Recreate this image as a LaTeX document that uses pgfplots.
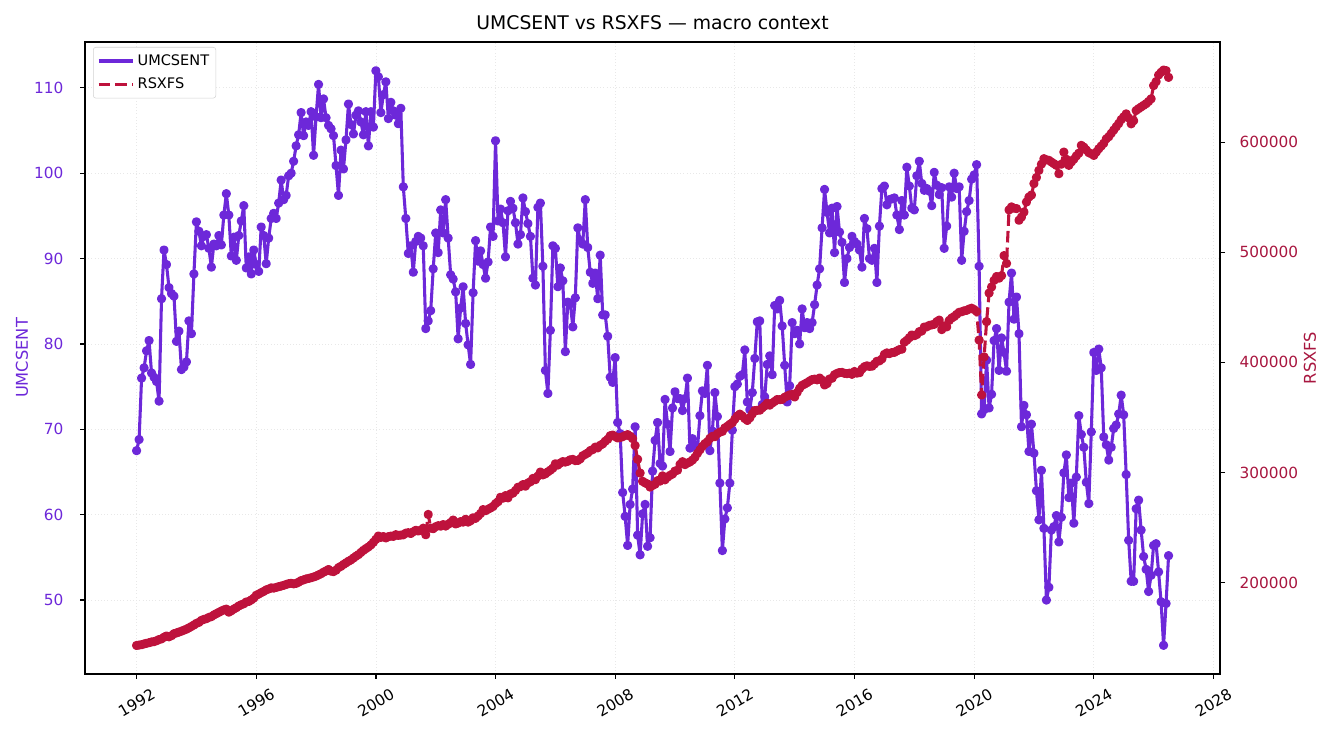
\documentclass[border=0pt]{standalone}
\usepackage{pgfplots}
\pgfplotsset{compat=1.18}
\usepackage{pgfplotstable}
\usepackage{fontspec}
\setmainfont{DejaVu Sans}
\definecolor{umc}{HTML}{6D28D9}
\definecolor{rsx}{HTML}{BE123C}
\definecolor{rsxtxt}{HTML}{A8163F}

% UMCSENT, monthly from Jan 1992
\pgfplotstableread[row sep=\\]{
u\\
67.5\\ 68.8\\ 76.0\\ 77.2\\ 79.2\\ 80.4\\ 76.6\\ 76.1\\ 75.6\\ 73.3\\ 85.3\\ 91.0\\
89.3\\ 86.6\\ 85.9\\ 85.6\\ 80.3\\ 81.5\\ 77.0\\ 77.3\\ 77.9\\ 82.7\\ 81.2\\ 88.2\\
94.3\\ 93.2\\ 91.5\\ 92.6\\ 92.8\\ 91.2\\ 89.0\\ 91.7\\ 91.5\\ 92.7\\ 91.6\\ 95.1\\
97.6\\ 95.1\\ 90.3\\ 92.5\\ 89.8\\ 92.7\\ 94.4\\ 96.2\\ 88.9\\ 90.2\\ 88.2\\ 91.0\\
89.3\\ 88.5\\ 93.7\\ 92.7\\ 89.4\\ 92.4\\ 94.7\\ 95.3\\ 94.7\\ 96.5\\ 99.2\\ 96.9\\
97.4\\ 99.7\\ 100.0\\ 101.4\\ 103.2\\ 104.5\\ 107.1\\ 104.4\\ 106.0\\ 105.6\\ 107.2\\ 102.1\\
106.6\\ 110.4\\ 106.5\\ 108.7\\ 106.5\\ 105.6\\ 105.2\\ 104.4\\ 100.9\\ 97.4\\ 102.7\\ 100.5\\
103.9\\ 108.1\\ 105.7\\ 104.6\\ 106.8\\ 107.3\\ 106.0\\ 104.5\\ 107.2\\ 103.2\\ 107.2\\ 105.4\\
112.0\\ 111.3\\ 107.1\\ 109.2\\ 110.7\\ 106.4\\ 108.3\\ 107.3\\ 106.8\\ 105.8\\ 107.6\\ 98.4\\
94.7\\ 90.6\\ 91.5\\ 88.4\\ 92.0\\ 92.6\\ 92.4\\ 91.5\\ 81.8\\ 82.7\\ 83.9\\ 88.8\\
93.0\\ 90.7\\ 95.7\\ 93.0\\ 96.9\\ 92.4\\ 88.1\\ 87.6\\ 86.1\\ 80.6\\ 84.2\\ 86.7\\
82.4\\ 79.9\\ 77.6\\ 86.0\\ 92.1\\ 89.7\\ 90.9\\ 89.3\\ 87.7\\ 89.6\\ 93.7\\ 92.6\\
103.8\\ 94.4\\ 95.8\\ 94.2\\ 90.2\\ 95.6\\ 96.7\\ 95.9\\ 94.2\\ 91.7\\ 92.8\\ 97.1\\
95.5\\ 94.1\\ 92.6\\ 87.7\\ 86.9\\ 96.0\\ 96.5\\ 89.1\\ 76.9\\ 74.2\\ 81.6\\ 91.5\\
91.2\\ 86.7\\ 88.9\\ 87.4\\ 79.1\\ 84.9\\ 84.7\\ 82.0\\ 85.4\\ 93.6\\ 92.1\\ 91.7\\
96.9\\ 91.3\\ 88.4\\ 87.1\\ 88.3\\ 85.3\\ 90.4\\ 83.4\\ 83.4\\ 80.9\\ 76.1\\ 75.5\\
78.4\\ 70.8\\ 69.5\\ 62.6\\ 59.8\\ 56.4\\ 61.2\\ 63.0\\ 70.3\\ 57.6\\ 55.3\\ 60.1\\
61.2\\ 56.3\\ 57.3\\ 65.1\\ 68.7\\ 70.8\\ 66.0\\ 65.7\\ 73.5\\ 70.6\\ 67.4\\ 72.5\\
74.4\\ 73.6\\ 73.6\\ 72.2\\ 73.6\\ 76.0\\ 67.8\\ 68.9\\ 68.2\\ 67.7\\ 71.6\\ 74.5\\
74.2\\ 77.5\\ 67.5\\ 69.8\\ 74.3\\ 71.5\\ 63.7\\ 55.8\\ 59.5\\ 60.8\\ 63.7\\ 69.9\\
75.0\\ 75.3\\ 76.2\\ 76.4\\ 79.3\\ 73.2\\ 72.3\\ 74.3\\ 78.3\\ 82.6\\ 82.7\\ 72.9\\
73.8\\ 77.6\\ 78.6\\ 76.4\\ 84.5\\ 84.1\\ 85.1\\ 82.1\\ 77.5\\ 73.2\\ 75.1\\ 82.5\\
81.2\\ 81.6\\ 80.0\\ 84.1\\ 81.9\\ 82.5\\ 81.8\\ 82.5\\ 84.6\\ 86.9\\ 88.8\\ 93.6\\
98.1\\ 95.4\\ 93.0\\ 95.9\\ 90.7\\ 96.1\\ 93.1\\ 91.9\\ 87.2\\ 90.0\\ 91.3\\ 92.6\\
92.0\\ 91.7\\ 91.0\\ 89.0\\ 94.7\\ 93.5\\ 90.0\\ 89.8\\ 91.2\\ 87.2\\ 93.8\\ 98.2\\
98.5\\ 96.3\\ 96.9\\ 97.0\\ 97.1\\ 95.1\\ 93.4\\ 96.8\\ 95.1\\ 100.7\\ 98.5\\ 95.9\\
95.7\\ 99.7\\ 101.4\\ 98.8\\ 98.0\\ 98.2\\ 97.9\\ 96.2\\ 100.1\\ 98.6\\ 97.5\\ 98.3\\
91.2\\ 93.8\\ 98.4\\ 97.2\\ 100.0\\ 98.2\\ 98.4\\ 89.8\\ 93.2\\ 95.5\\ 96.8\\ 99.3\\
99.8\\ 101.0\\ 89.1\\ 71.8\\ 72.3\\ 78.1\\ 72.5\\ 74.1\\ 80.4\\ 81.8\\ 76.9\\ 80.7\\
79.0\\ 76.8\\ 84.9\\ 88.3\\ 82.9\\ 85.5\\ 81.2\\ 70.3\\ 72.8\\ 71.7\\ 67.4\\ 70.6\\
67.2\\ 62.8\\ 59.4\\ 65.2\\ 58.4\\ 50.0\\ 51.5\\ 58.2\\ 58.6\\ 59.9\\ 56.8\\ 59.7\\
64.9\\ 67.0\\ 62.0\\ 63.7\\ 59.0\\ 64.4\\ 71.6\\ 69.4\\ 67.9\\ 63.8\\ 61.3\\ 69.7\\
79.0\\ 76.9\\ 79.4\\ 77.2\\ 69.1\\ 68.2\\ 66.4\\ 67.9\\ 70.1\\ 70.5\\ 71.8\\ 74.0\\
71.7\\ 64.7\\ 57.0\\ 52.2\\ 52.2\\ 60.7\\ 61.7\\ 58.2\\ 55.1\\ 53.6\\ 51.0\\ 52.9\\
56.4\\ 56.6\\ 53.3\\ 49.8\\ 44.7\\ 49.6\\ 55.2\\
}\umctable

% RSXFS (thousands), monthly from Jan 1992
\pgfplotstableread[row sep=\\]{
r\\
142.9\\ 143.3\\ 143.6\\ 144.3\\ 144.9\\ 145.4\\ 146.1\\ 146.4\\ 147.2\\ 148.3\\ 148.9\\ 150.4\\
151.5\\ 150.8\\ 151.8\\ 153.6\\ 154.3\\ 155.1\\ 155.9\\ 156.8\\ 157.7\\ 158.9\\ 160.2\\ 161.5\\
163.0\\ 163.9\\ 165.7\\ 166.6\\ 167.2\\ 168.4\\ 169.1\\ 170.6\\ 171.8\\ 173.0\\ 174.2\\ 175.2\\
175.9\\ 173.2\\ 174.4\\ 176.0\\ 177.2\\ 178.8\\ 179.9\\ 180.8\\ 182.4\\ 182.9\\ 184.3\\ 185.9\\
188.5\\ 189.6\\ 190.9\\ 192.0\\ 193.4\\ 194.2\\ 195.2\\ 195.0\\ 195.6\\ 196.3\\ 196.9\\ 197.5\\
198.3\\ 199.0\\ 199.4\\ 198.9\\ 199.3\\ 200.4\\ 201.8\\ 202.5\\ 203.3\\ 203.8\\ 204.4\\ 205.1\\
205.9\\ 207.0\\ 208.1\\ 209.5\\ 210.6\\ 211.9\\ 210.4\\ 210.0\\ 211.3\\ 213.6\\ 214.8\\ 216.5\\
217.9\\ 219.4\\ 220.6\\ 222.3\\ 224.0\\ 225.4\\ 227.4\\ 229.3\\ 230.9\\ 232.4\\ 234.2\\ 236.6\\
239.3\\ 242.3\\ 241.1\\ 241.8\\ 240.6\\ 241.7\\ 242.2\\ 242.0\\ 243.5\\ 242.9\\ 243.2\\ 243.4\\
244.9\\ 245.3\\ 244.6\\ 246.2\\ 247.5\\ 246.9\\ 247.4\\ 249.4\\ 243.5\\ 261.9\\ 249.4\\ 249.0\\
250.8\\ 251.7\\ 251.3\\ 252.7\\ 251.4\\ 253.0\\ 254.6\\ 256.8\\ 253.3\\ 254.1\\ 255.4\\ 255.0\\
257.5\\ 255.0\\ 256.2\\ 258.9\\ 258.4\\ 260.5\\ 262.8\\ 266.3\\ 265.3\\ 266.6\\ 267.8\\ 269.2\\
271.8\\ 273.5\\ 277.5\\ 276.7\\ 279.0\\ 277.0\\ 280.6\\ 281.3\\ 283.7\\ 286.6\\ 287.2\\ 289.0\\
287.6\\ 290.5\\ 291.6\\ 294.6\\ 293.5\\ 296.8\\ 300.4\\ 297.9\\ 298.8\\ 300.6\\ 302.1\\ 304.0\\
307.9\\ 306.8\\ 308.6\\ 309.9\\ 309.5\\ 310.2\\ 311.6\\ 311.9\\ 310.8\\ 310.9\\ 312.4\\ 315.2\\
316.5\\ 317.8\\ 319.9\\ 320.8\\ 323.0\\ 322.4\\ 324.7\\ 326.0\\ 328.4\\ 330.2\\ 333.4\\ 334.0\\
332.6\\ 331.4\\ 331.8\\ 332.5\\ 333.6\\ 334.4\\ 333.0\\ 330.8\\ 324.5\\ 312.0\\ 299.5\\ 292.0\\
290.6\\ 289.5\\ 286.8\\ 288.2\\ 289.4\\ 292.6\\ 292.2\\ 296.9\\ 293.4\\ 295.8\\ 297.4\\ 298.6\\
301.3\\ 302.1\\ 307.4\\ 309.8\\ 307.2\\ 308.6\\ 309.6\\ 311.3\\ 313.8\\ 317.4\\ 320.6\\ 323.8\\
326.2\\ 327.9\\ 331.0\\ 332.8\\ 332.6\\ 335.2\\ 336.6\\ 337.4\\ 340.5\\ 342.0\\ 343.8\\ 345.3\\
348.4\\ 351.3\\ 353.0\\ 351.4\\ 349.0\\ 347.3\\ 349.6\\ 353.2\\ 356.3\\ 356.5\\ 356.6\\ 358.7\\
360.5\\ 362.9\\ 361.2\\ 363.1\\ 364.6\\ 366.3\\ 366.1\\ 366.4\\ 368.4\\ 369.4\\ 370.5\\ 370.9\\
368.6\\ 372.7\\ 376.5\\ 379.2\\ 380.3\\ 381.6\\ 383.1\\ 384.4\\ 384.8\\ 384.2\\ 385.8\\ 383.9\\
379.5\\ 380.8\\ 384.9\\ 385.6\\ 388.8\\ 390.0\\ 390.8\\ 390.9\\ 390.1\\ 389.8\\ 390.2\\ 389.2\\
391.7\\ 390.3\\ 390.6\\ 394.0\\ 396.1\\ 396.9\\ 396.4\\ 396.5\\ 398.5\\ 401.0\\ 401.4\\ 403.1\\
407.3\\ 408.6\\ 408.0\\ 408.9\\ 409.1\\ 410.4\\ 411.6\\ 412.0\\ 418.3\\ 420.1\\ 422.4\\ 424.9\\
424.2\\ 425.3\\ 427.9\\ 428.5\\ 432.1\\ 432.3\\ 433.6\\ 434.1\\ 434.6\\ 437.0\\ 438.4\\ 429.8\\
433.2\\ 432.3\\ 438.1\\ 440.3\\ 441.7\\ 443.6\\ 445.5\\ 446.0\\ 446.9\\ 447.3\\ 448.5\\ 449.2\\
448.0\\ 446.2\\ 420.3\\ 370.4\\ 405.0\\ 437.0\\ 463.0\\ 468.5\\ 474.5\\ 478.0\\ 476.5\\ 478.8\\
497.0\\ 489.9\\ 538.5\\ 541.2\\ 540.0\\ 539.7\\ 529.1\\ 532.0\\ 536.6\\ 545.7\\ 550.2\\ 552.0\\
562.4\\ 568.0\\ 574.4\\ 580.0\\ 585.0\\ 584.0\\ 583.5\\ 582.0\\ 580.5\\ 579.0\\ 571.4\\ 580.0\\
591.0\\ 584.5\\ 579.0\\ 582.0\\ 584.5\\ 587.5\\ 590.0\\ 597.1\\ 595.5\\ 593.0\\ 590.5\\ 589.5\\
588.0\\ 591.0\\ 594.0\\ 596.5\\ 599.0\\ 603.0\\ 605.0\\ 608.0\\ 611.0\\ 614.0\\ 617.0\\ 620.5\\
623.0\\ 625.7\\ 622.0\\ 616.7\\ 619.5\\ 628.8\\ 630.5\\ 632.0\\ 633.5\\ 635.0\\ 637.0\\ 639.4\\
651.4\\ 655.0\\ 661.0\\ 663.5\\ 665.5\\ 665.0\\ 658.9\\
}\rsxtable

\begin{document}
\begin{tikzpicture}
\useasboundingbox (0,0) rectangle (1001.25pt,551.25pt);
\pgfplotsset{
  common/.style={
    at={(63.75pt,45.75pt)}, anchor=south west,
    scale only axis, width=851.25pt, height=474pt,
    xmin=1990.275, xmax=2028.22,
    /pgf/number format/assume math mode=true,
    tick align=outside, major tick length=3.75pt,
    tick style={black, line width=0.9pt},
    axis line style={line width=1.1pt},
    scaled y ticks=false,
    every axis plot/.append style={line width=2.3pt, line join=round, mark=*, mark size=2.3pt},
  }
}
\begin{axis}[common,
  ymin=41.34, ymax=115.37,
  xtick={1992,1996,...,2028},
  ytick={50,60,...,110},
  xtick pos=bottom, ytick pos=left,
  xticklabel={\pgfmathprintnumber[fixed,precision=0,1000 sep={}]{\tick}},
  xticklabel style={font=\fontsize{11.5}{13}\selectfont, anchor=center, yshift=-18pt, rotate=30},
  yticklabel style={font=\fontsize{11.5}{13}\selectfont, color=umc, anchor=east, xshift=-9pt},
  ylabel={UMCSENT},
  ylabel style={at={(axis description cs:-0.0555,0.5)}, anchor=center, color=umc, font=\fontsize{12.2}{14}\selectfont},
  title={UMCSENT vs RSXFS — macro context},
  title style={at={(axis description cs:0.5,1)}, anchor=base, yshift=3pt, font=\fontsize{14.1}{16}\selectfont},
  grid=major, grid style={dotted, gray!18, line width=0.6pt},
  legend style={at={(axis description cs:0,1)}, anchor=north west, xshift=6pt, yshift=-3.75pt,
    draw=gray!35, rounded corners=2pt, fill=white, font=\fontsize{10.9}{13}\selectfont,
    row sep=4pt, inner xsep=3pt, inner ysep=3.5pt},
  legend cell align=left,
  legend image code/.code={\path (0pt,0pt) -- (26pt,0pt); \draw[#1, mark=none] (0pt,0pt) -- (23pt,0pt);},
]
\addplot[umc] table[x expr={1992+\coordindex/12}, y index=0] {\umctable};
\addlegendentry{UMCSENT}
\addlegendimage{rsx, line width=2.3pt, dash pattern=on 8.7pt off 3.8pt}
\addlegendentry{RSXFS}
\end{axis}
\begin{axis}[common,
  axis x line=none, axis y line*=right,
  ymin=117000, ymax=691000,
  ytick={200000,300000,...,600000},
  yticklabel={\pgfmathprintnumber[fixed,precision=0,1000 sep={}]{\tick}},
  yticklabel style={font=\fontsize{11.5}{13}\selectfont, color=rsxtxt, anchor=west, xshift=7.5pt},
  ylabel={RSXFS},
  ylabel style={at={(axis description cs:1.0793,0.5)}, anchor=center, color=rsxtxt, font=\fontsize{12.2}{14}\selectfont},
]
\addplot[rsx, dash pattern=on 8.7pt off 3.8pt, mark options={solid}] table[x expr={1992+\coordindex/12}, x index=0, y index=0, y expr={\thisrow{r}*1000}] {\rsxtable};
\end{axis}
\end{tikzpicture}
\end{document}
